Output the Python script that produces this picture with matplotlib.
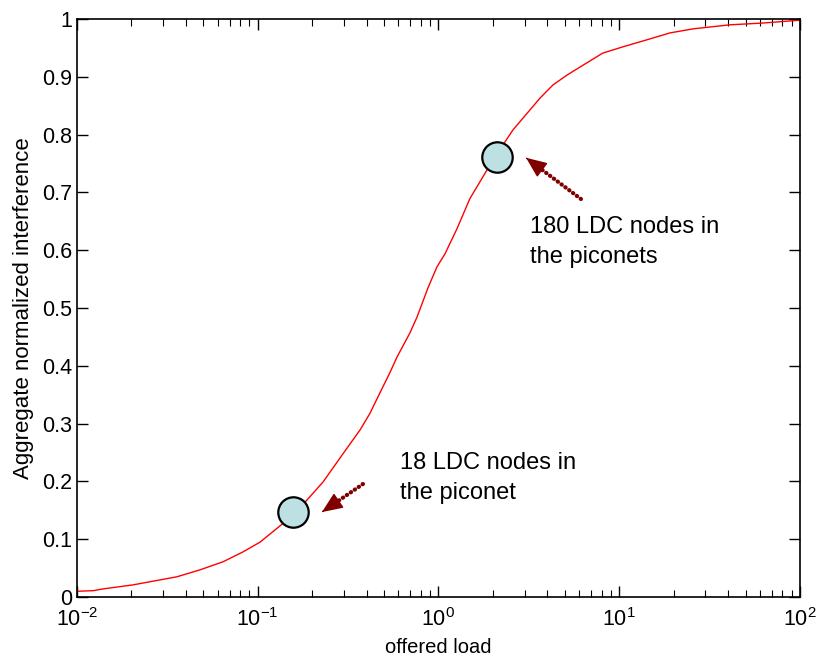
import numpy as np
import matplotlib
matplotlib.use("Agg")
import matplotlib.pyplot as plt
from matplotlib.ticker import LogLocator, NullFormatter

plt.rcParams['font.family'] = ['Liberation Sans', 'DejaVu Sans']
plt.rcParams['mathtext.fontset'] = 'custom'
plt.rcParams['mathtext.rm'] = 'Liberation Sans'

# curve (offered load vs aggregate interference)
load = [0.0101, 0.0123, 0.0139, 0.0204, 0.0357, 0.0479, 0.0643, 0.0828, 0.103,
        0.128, 0.157, 0.1875, 0.2297, 0.2965, 0.368, 0.418, 0.462, 0.540, 0.589,
        0.695, 0.760, 0.875, 0.98, 1.087, 1.265, 1.49, 2.0, 2.58, 3.64, 4.3,
        5.14, 6.07, 8.1, 10.5, 14.2, 19.1, 25.6, 41, 62, 100]
interference = [0.010, 0.011, 0.014, 0.021, 0.035, 0.047, 0.061, 0.078, 0.095,
                0.119, 0.142, 0.168, 0.199, 0.248, 0.289, 0.318, 0.346, 0.389, 0.415,
                0.457, 0.484, 0.535, 0.571, 0.594, 0.637, 0.689, 0.756, 0.808, 0.863, 0.886,
                0.903, 0.917, 0.941, 0.952, 0.964, 0.976, 0.983, 0.990, 0.993, 0.998]

# highlighted operating points
mark_x = [0.157, 2.11]
mark_y = [0.1466, 0.761]
mark_labels = ['18 LDC nodes in\nthe piconet', '180 LDC nodes in\nthe piconets']
# arrow tails / tips and text anchors (data coords)
arrow_tail = [(0.382, 0.1955), (6.14, 0.6886)]
arrow_tip = [(0.2265, 0.147), (3.05, 0.760)]
text_pos = [(0.612, 0.251), (3.2, 0.659)]

fig = plt.figure(figsize=(8.18, 6.63), dpi=100)
ax = fig.add_axes([0.0941, 0.0995, 0.8839, 0.8718])

ax.plot(load, interference, color='red', linewidth=1.0)
ax.scatter(mark_x, mark_y, s=480, facecolor='#bde0e3', edgecolor='black',
           linewidth=1.6, zorder=3)

arrow_col = '#800000'
for (tx, ty), (hx, hy) in zip(arrow_tail, arrow_tip):
    # dotted shaft, running in under the head
    lx = np.log10(tx) + 0.8 * (np.log10(hx) - np.log10(tx))
    ly = ty + 0.8 * (hy - ty)
    ax.plot([tx, 10 ** lx], [ty, ly], linestyle=(0, (0.1, 1.05)), linewidth=3.0,
            color=arrow_col, dash_capstyle='round', zorder=4)
    # solid head
    sx = np.log10(hx) + 0.02 * (np.log10(tx) - np.log10(hx))
    sy = hy + 0.02 * (ty - hy)
    ax.annotate('', xy=(hx, hy), xytext=(10 ** sx, sy), zorder=5,
                arrowprops=dict(arrowstyle='-|>,head_length=1.3,head_width=0.55',
                                linewidth=1, color=arrow_col, shrinkA=0, shrinkB=0,
                                mutation_scale=10))

for (px, py), lab in zip(text_pos, mark_labels):
    ax.text(px, py, lab, fontsize=17, ha='left', va='top', linespacing=1.45)

ax.set_xscale('log')
ax.set_xlim(1e-2, 1e2)
ax.set_ylim(0, 1)
ax.set_yticks(np.arange(0, 1.01, 0.1))
ax.set_yticklabels(['0', '0.1', '0.2', '0.3', '0.4', '0.5', '0.6', '0.7', '0.8', '0.9', '1'])
ax.xaxis.set_minor_locator(LogLocator(base=10, subs=np.arange(2, 10)))
ax.xaxis.set_minor_formatter(NullFormatter())

ax.tick_params(which='both', direction='in', top=True, right=True, labelsize=15.5)
ax.tick_params(which='major', length=8, width=1)
ax.tick_params(which='minor', length=5, width=0.8)
ax.tick_params(axis='x', pad=8)
for s in ax.spines.values():
    s.set_linewidth(1.2)

ax.set_xlabel('offered load', fontsize=14.5, labelpad=5)
ax.set_ylabel('Aggregate normalized interference', fontsize=16, labelpad=6)

fig.savefig('out.png', dpi=100)
